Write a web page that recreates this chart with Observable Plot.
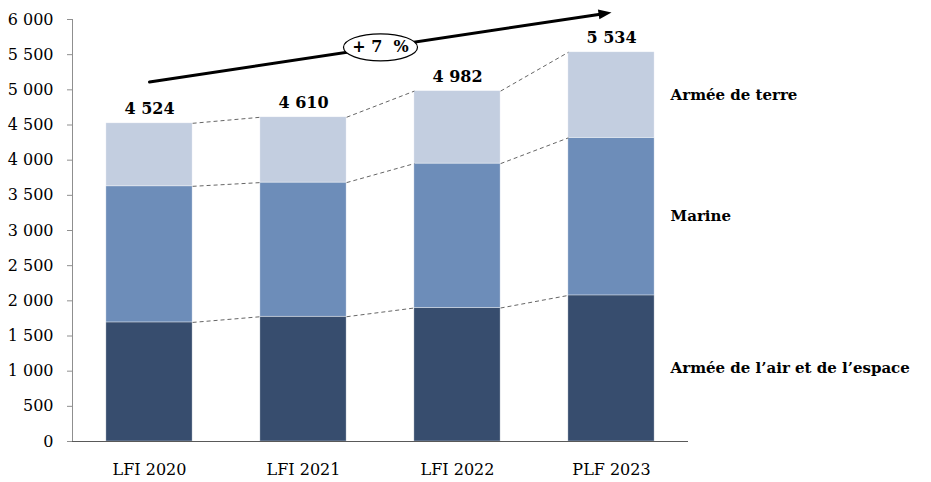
<!DOCTYPE html>
<html>
<head>
<meta charset="utf-8">
<script src="https://cdn.jsdelivr.net/npm/d3@7"></script>
<script src="https://cdn.jsdelivr.net/npm/@observablehq/plot@0.6"></script>
<style>
  html, body { margin: 0; padding: 0; background: #fff; }
</style>
</head>
<body>
<div id="chart"></div>
<script>
// ---- data ----
const categories = ["LFI 2020", "LFI 2021", "LFI 2022", "PLF 2023"];
const seriesNames = ["Armée de l’air et de l’espace", "Marine", "Armée de terre"];
const airValues = [1693, 1774, 1898, 2077];
const marineValues = [1935, 1907, 2053, 2240];
const terreValues = [896, 929, 1031, 1217];
const totals = [4524, 4610, 4982, 5534];
const yTicks = [0, 500, 1000, 1500, 2000, 2500, 3000, 3500, 4000, 4500, 5000, 5500, 6000];
// trend arrow annotation (in data units: category index, value)
const trendStart = {x: 0, y: 5110};
const trendEnd = {x: 3, y: 6100};

// ---- layout config ----
const W = 931, H = 482, ML = 72, MR = 243, MT = 19, MB = 41;
const X_DOMAIN = [-0.5, 3.5], Y_DOMAIN = [0, 6000];

// ---- derived tables ----
const seriesValues = [airValues, marineValues, terreValues];
const colors = ["#374D6E", "#6D8DB9", "#C3CEE0"];
const hw = 0.28; // half bar width in category units

const rows = [];
const tops = seriesNames.map(() => []);
categories.forEach((cat, i) => {
  let acc = 0;
  seriesNames.forEach((s, k) => {
    const v = seriesValues[k][i];
    rows.push({i, cat, series: s, y1: acc, y2: acc + v});
    acc += v;
    tops[k].push(acc);
  });
});

const links = [];
tops.forEach((arr) => {
  for (let i = 0; i < arr.length - 1; i++) {
    links.push({x1: i + hw, y1: arr[i], x2: i + 1 - hw, y2: arr[i + 1]});
  }
});

const last = categories.length - 1;
const seriesLabels = seriesNames.map((s) => {
  const r = rows.find(d => d.i === last && d.series === s);
  return {name: s, x: last + hw, y: (r.y1 + r.y2) / 2};
});

const totalLabels = totals.map((t, i) => ({x: i, y: t}));

const fr = d3.formatLocale({decimal: ",", thousands: "\u00a0", grouping: [3], currency: ["", "€"]});
const fmt = fr.format(",d");

const cagr = Math.round((Math.pow(totals[last] / totals[0], 1 / last) - 1) * 100);
const mid = {x: (trendStart.x + trendEnd.x) / 2, y: (trendStart.y + trendEnd.y) / 2, label: `+ ${cagr}\u00a0\u00a0%`};

// ellipse symbol for the growth badge
const RX = 37, RY = 13.5, K = 0.5523;
const ellipseSymbol = {
  draw(context) {
    context.moveTo(RX, 0);
    context.bezierCurveTo(RX, K * RY, K * RX, RY, 0, RY);
    context.bezierCurveTo(-K * RX, RY, -RX, K * RY, -RX, 0);
    context.bezierCurveTo(-RX, -K * RY, -K * RX, -RY, 0, -RY);
    context.bezierCurveTo(K * RX, -RY, RX, -K * RY, RX, 0);
    context.closePath();
  }
};

// filled arrowhead symbol, tip at the point, oriented along the trend in screen space
const pxPerX = (W - ML - MR) / (X_DOMAIN[1] - X_DOMAIN[0]);
const pxPerY = (H - MT - MB) / (Y_DOMAIN[1] - Y_DOMAIN[0]);
const ang = Math.atan2(-(trendEnd.y - trendStart.y) * pxPerY, (trendEnd.x - trendStart.x) * pxPerX);
const HEAD_L = 13, HEAD_W = 5;
const headSymbol = {
  draw(context) {
    const c = Math.cos(ang), s = Math.sin(ang);
    const pt = (u, v) => [u * c - v * s, u * s + v * c]; // u along, v perpendicular
    const a = pt(0, 0), b = pt(-HEAD_L, HEAD_W), d = pt(-HEAD_L, -HEAD_W);
    context.moveTo(a[0], a[1]);
    context.lineTo(b[0], b[1]);
    context.lineTo(d[0], d[1]);
    context.closePath();
  }
};

const chart = Plot.plot({
  width: W,
  height: H,
  marginLeft: ML,
  marginRight: MR,
  marginTop: MT,
  marginBottom: MB,
  style: {fontFamily: "'DejaVu Serif', serif", fontSize: "16px", color: "#000", background: "#fff"},
  x: {domain: X_DOMAIN, axis: null},
  y: {domain: Y_DOMAIN, axis: null},
  color: {domain: seriesNames, range: colors},
  marks: [
    Plot.rectY(rows, {
      x1: d => d.i - hw, x2: d => d.i + hw, y1: "y1", y2: "y2",
      fill: "series", stroke: "#ffffff", strokeWidth: 0.6, strokeOpacity: 0.6
    }),
    Plot.link(links, {x1: "x1", y1: "y1", x2: "x2", y2: "y2", stroke: "#666", strokeWidth: 1, strokeDasharray: "4,3"}),
    Plot.ruleX([-0.5], {y1: 0, y2: 6000, stroke: "#8f8f8f", strokeWidth: 1}),
    Plot.axisY({ticks: yTicks, tickFormat: fmt, tickSize: 5, tickPadding: 14, stroke: "#8f8f8f", fill: "#000", fontSize: 16}),
    Plot.axisX({ticks: [0, 1, 2, 3], tickFormat: i => categories[i], tickSize: 0, tickPadding: 22, fill: "#000", fontSize: 16}),
    Plot.ruleY([0], {x1: -0.5, x2: 3.5, stroke: "#595959", strokeWidth: 1.2}),
    Plot.text(totalLabels, {x: "x", y: "y", text: d => fmt(d.y), dy: -9, lineAnchor: "bottom", fontWeight: "bold", fontSize: 16, fill: "#000"}),
    Plot.text(seriesLabels, {x: "x", y: "y", text: "name", dx: 16, textAnchor: "start", lineAnchor: "middle", fontWeight: "bold", fontSize: 15, fill: "#000"}),
    Plot.arrow([{a: trendStart, b: trendEnd}], {x1: d => d.a.x, y1: d => d.a.y, x2: d => d.b.x, y2: d => d.b.y, stroke: "#000", strokeWidth: 3, headLength: 0, insetEnd: 8, bend: 0}),
    Plot.dot([trendEnd], {x: "x", y: "y", symbol: headSymbol, r: 8, fill: "#000", stroke: "none"}),
    Plot.dot([mid], {x: "x", y: "y", symbol: ellipseSymbol, r: 10, fill: "#fff", stroke: "#000", strokeWidth: 1.2}),
    Plot.text([mid], {x: "x", y: "y", text: "label", fontWeight: "bold", fontSize: 16, fill: "#000", lineAnchor: "middle"})
  ]
});
document.getElementById("chart").appendChild(chart);
</script>
</body>
</html>
